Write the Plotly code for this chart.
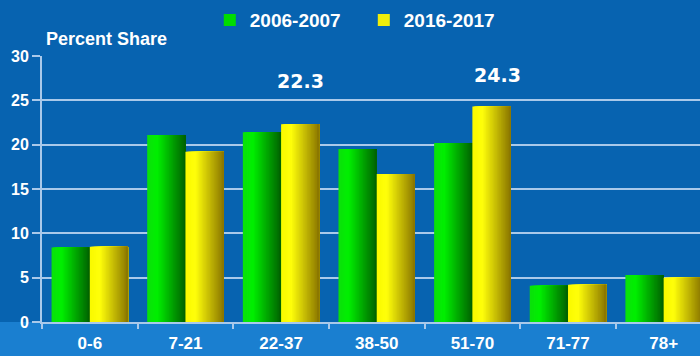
import plotly.graph_objects as go

# Age groups and their percent share in two periods
age_groups = ["0-6", "7-21", "22-37", "38-50", "51-70", "71-77", "78+"]
share_2006_2007 = [8.4, 21.1, 21.4, 19.5, 20.2, 4.1, 5.3]
share_2016_2017 = [8.5, 19.2, 22.3, 16.7, 24.3, 4.2, 5.0]
series_names = ["2006-2007", "2016-2017"]
y_ticks = [0, 5, 10, 15, 20, 25, 30]
# categories whose 2016-2017 value is called out above the bars
called_out = ["22-37", "51-70"]

BG = "#0763b0"
BAND = "#1a7fd0"
GRID = "#a9c9ea"
FONT = "Liberation Sans"

BAR_W = 0.4     # width of one bar (category units)
N_STRIPS = 28   # strips used to shade each bar left-to-right


def lerp(c0, c1, t):
    return "rgb(%d,%d,%d)" % tuple(round(a + (b - a) * t) for a, b in zip(c0, c1))


def shade(stops, t):
    for (t0, c0), (t1, c1) in zip(stops, stops[1:]):
        if t <= t1:
            return lerp(c0, c1, (t - t0) / (t1 - t0) if t1 > t0 else 0)
    return lerp(stops[-1][1], stops[-1][1], 0)


green_stops = [(0.0, (10, 225, 10)), (0.25, (0, 240, 0)), (1.0, (0, 100, 0))]
yellow_stops = [(0.0, (250, 250, 0)), (0.25, (255, 255, 10)), (1.0, (140, 120, 0))]

fig = go.Figure()

series = [
    (series_names[0], share_2006_2007, green_stops, -BAR_W),
    (series_names[1], share_2016_2017, yellow_stops, 0.0),
]

for name, values, stops, start in series:
    step = BAR_W / N_STRIPS
    for k in range(N_STRIPS):
        t = k / (N_STRIPS - 1)
        fig.add_trace(go.Bar(
            x=age_groups, y=values,
            offset=start + k * step,
            width=BAR_W - k * step,
            marker=dict(color=shade(stops, t), line=dict(width=0)),
            showlegend=False, hoverinfo="skip",
        ))
    # legend entry
    fig.add_trace(go.Bar(
        x=[age_groups[0]], y=[None], name=name,
        marker=dict(color=shade(stops, 0.35), line=dict(width=0)),
        showlegend=True,
    ))

# value call-outs above the 2016-2017 bars
label_pos = {"22-37": (27.2, 0), "51-70": (27.9, 6)}
for cat in called_out:
    i = age_groups.index(cat)
    v = share_2016_2017[i]
    ly, dx = label_pos[cat]
    fig.add_annotation(
        x=i + BAR_W / 2, y=ly, xref="x", yref="y", xshift=dx,
        text=f"{v:.1f}", showarrow=False,
        font=dict(family="DejaVu Sans", size=19, color="white", weight="bold"),
    )

fig.add_annotation(
    x=0.003, y=1.064, xref="paper", yref="paper",
    xanchor="left", yanchor="middle", showarrow=False,
    text="Percent Share",
    font=dict(family=FONT, size=18, color="white", weight="bold"),
)

# lighter band under the category axis
fig.add_shape(
    type="rect", xref="paper", yref="paper",
    x0=-0.2, x1=1.1, y0=-0.3, y1=0,
    fillcolor=BAND, line=dict(width=0), layer="below",
)

fig.update_layout(
    width=700, height=356,
    margin=dict(l=42, r=0, t=56, b=34, autoexpand=False),
    paper_bgcolor=BG, plot_bgcolor=BG,
    barmode="overlay", bargap=0.2,
    font=dict(family=FONT, color="white", weight="bold"),
    legend=dict(
        orientation="h", x=0.255, y=1.135, xanchor="left", yanchor="middle",
        font=dict(family=FONT, size=19, color="white", weight="bold"),
        bgcolor="rgba(0,0,0,0)", itemwidth=30,
        entrywidth=109, entrywidthmode="pixels",
    ),
    xaxis=dict(
        range=[-0.5, 6.38], type="category",
        showgrid=False, showline=True, linecolor=GRID, linewidth=2,
        ticks="outside", tickson="boundaries", ticklen=5, tickcolor=GRID, tickwidth=2,
        tickfont=dict(family=FONT, size=17, color="white", weight="bold"),
        ticklabelstandoff=5,
    ),
    yaxis=dict(
        range=[0, 30], tickvals=y_ticks,
        showgrid=True, gridcolor=GRID, gridwidth=1.5,
        showline=True, linecolor=GRID, linewidth=2,
        ticks="outside", ticklen=8, tickcolor=GRID, tickwidth=2,
        tickfont=dict(family=FONT, size=16, color="white", weight="bold"),
        zeroline=False,
    ),
)

fig.write_html("out.html")
